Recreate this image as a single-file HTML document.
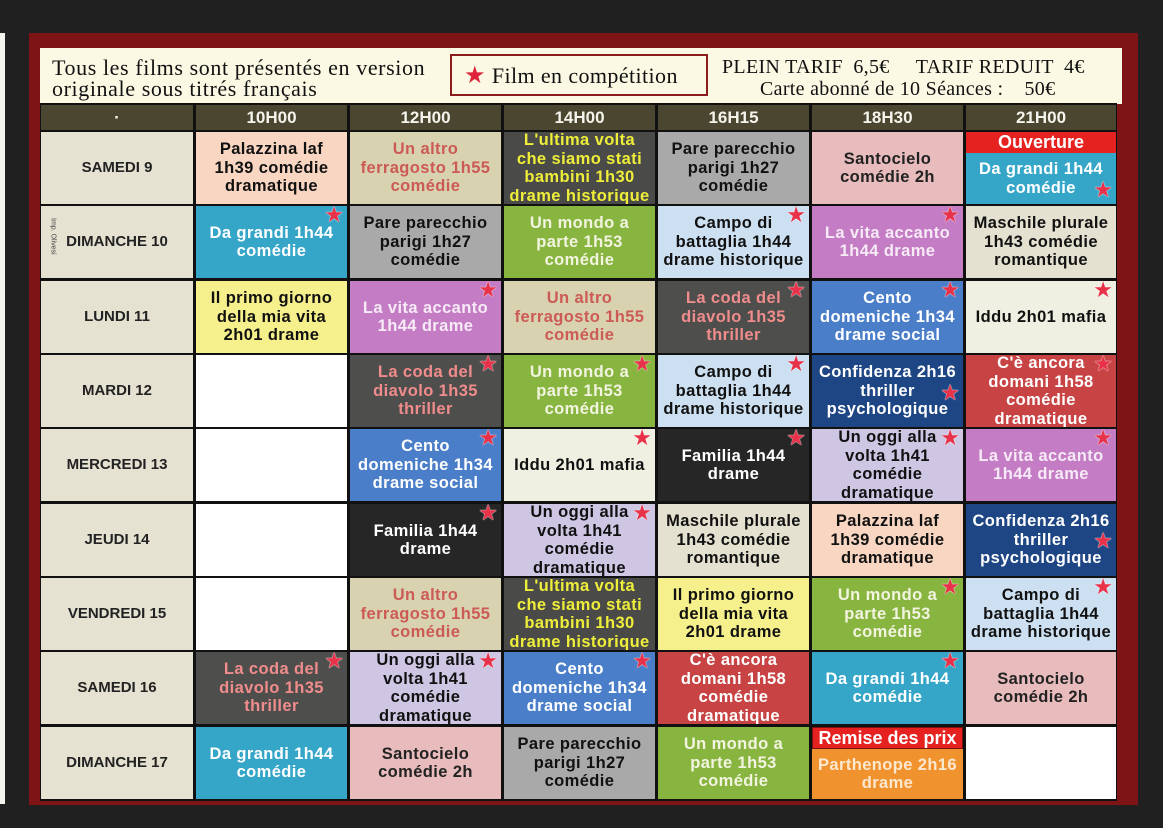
<!DOCTYPE html>
<html><head><meta charset="utf-8"><style>
*{margin:0;padding:0;box-sizing:border-box}
body{width:1163px;height:828px;background:#202020;position:relative;overflow:hidden;font-family:"Liberation Sans",sans-serif}
.abs{position:absolute}
.cell{position:absolute;width:151px;height:72px;display:flex;align-items:center;justify-content:center;text-align:center;font-weight:bold;font-size:16.5px;line-height:18.5px;letter-spacing:0.4px;overflow:hidden;white-space:nowrap}
.day{left:41px;width:152px;background:#e5e2d2;color:#222;font-size:15px;letter-spacing:0}
.hd{position:absolute;top:105px;height:25px;width:151px;background:#4b4630;color:#f4f4ec;font-weight:bold;font-size:17px;text-align:center;line-height:26px}
.c1{left:196px}.c2{left:350px}.c3{left:504px}.c4{left:658px}.c5{left:812px}.c6{left:966px;width:150px}
.r1{top:132px}.r2{top:206px}.r3{top:281px}.r4{top:355px}.r5{top:429px}.r6{top:504px}.r7{top:578px}.r8{top:652px}.r9{top:727px}
.st{position:absolute;top:-1px;right:3px;font-size:22px;line-height:22px;color:#e8324a;text-shadow:0 0 1px #fff,0 0 1px #fff;font-family:"DejaVu Sans",sans-serif;font-weight:normal;letter-spacing:0}
.pea{background:#f8d6c2;color:#111}
.kha{background:#d8d2b0;color:#cc5a55}
.ult{background:#4a4a48;color:#eeee3a}
.cod{background:#4e4e4c;color:#f08c8c}
.gra{background:#a9a9a9;color:#111}
.pin{background:#e8bcbc;color:#222}
.cya{background:#36a6c8;color:#fff}
.gre{background:#88b440;color:#f2f4e0}
.lbl{background:#cde0f2;color:#111}
.pur{background:#c47cc4;color:#f6eaf6}
.bei{background:#e4e1d0;color:#111}
.yel{background:#f6f08c;color:#111}
.blu{background:#4a7ec8;color:#fff}
.idd{background:#f0f0e2;color:#111}
.nav{background:#1e4684;color:#fff}
.red{background:#c84444;color:#fff}
.blk{background:#262626;color:#fff}
.lav{background:#cfc6e4;color:#111}
.whi{background:#fff}
.band{position:absolute;left:0;top:0;width:100%;height:21px;background:#e52220;color:#fff;font-size:18px;line-height:21px;letter-spacing:0}
</style></head><body>
<div class="abs" style="left:0;top:33px;width:5px;height:771px;background:#f4f4ee"></div>
<div class="abs" style="left:29px;top:33px;width:1109px;height:772px;background:#7e1416"></div>
<div class="abs" style="left:40px;top:48px;width:1082px;height:56px;background:#fbf9e4"></div>
<div class="abs" style="left:52px;top:57px;font-family:'Liberation Serif',serif;font-size:22px;line-height:21px;letter-spacing:0.6px;color:#111;white-space:nowrap">Tous les films sont présentés en version<br>originale sous titrés français</div>
<div class="abs" style="left:450px;top:54px;width:258px;height:42px;border:2px solid #8a1c1e;background:#fbf9e4;font-family:'Liberation Serif',serif;font-size:22px;line-height:38px;padding-left:12px;color:#111;white-space:nowrap;letter-spacing:0.4px"><span style="color:#e0243c;font-family:'DejaVu Sans',sans-serif;font-size:24px">★</span> Film en compétition</div>
<div class="abs" style="left:722px;top:56px;font-family:'Liberation Serif',serif;font-size:20px;line-height:22px;letter-spacing:0.3px;color:#111;white-space:pre">PLEIN TARIF  6,5€     TARIF REDUIT  4€</div>
<div class="abs" style="left:760px;top:78px;font-family:'Liberation Serif',serif;font-size:20px;line-height:22px;letter-spacing:0.3px;color:#111;white-space:pre">Carte abonné de 10 Séances :    50€</div>
<div class="abs" style="left:40px;top:103px;width:1077px;height:698px;background:#111"></div>
<div class="hd" style="left:41px;width:152px">·</div>
<div class="hd c1">10H00</div><div class="hd c2">12H00</div><div class="hd c3">14H00</div><div class="hd c4">16H15</div><div class="hd c5">18H30</div><div class="hd c6">21H00</div>

<div class="cell day r1">SAMEDI 9</div>
<div class="cell day r2">DIMANCHE 10<span class="abs" style="left:2px;top:12px;font-size:7px;font-weight:normal;writing-mode:vertical-rl;color:#444">Imp. Olivesi</span></div>
<div class="cell day r3">LUNDI 11</div>
<div class="cell day r4">MARDI 12</div>
<div class="cell day r5">MERCREDI 13</div>
<div class="cell day r6">JEUDI 14</div>
<div class="cell day r7">VENDREDI 15</div>
<div class="cell day r8">SAMEDI 16</div>
<div class="cell day r9">DIMANCHE 17</div>

<div class="cell r1 c1 pea">Palazzina laf<br>1h39 comédie<br>dramatique</div>
<div class="cell r1 c2 kha">Un altro<br>ferragosto 1h55<br>comédie</div>
<div class="cell r1 c3 ult">L'ultima volta<br>che siamo stati<br>bambini 1h30<br>drame historique</div>
<div class="cell r1 c4 gra">Pare parecchio<br>parigi 1h27<br>comédie</div>
<div class="cell r1 c5 pin">Santocielo<br>comédie 2h</div>
<div class="cell r1 c6 cya" style="padding-top:21px"><div class="band">Ouverture</div>Da grandi  1h44<br>comédie<span class="st" style="top:48px">★</span></div>

<div class="cell r2 c1 cya">Da grandi  1h44<br>comédie<span class="st">★</span></div>
<div class="cell r2 c2 gra">Pare parecchio<br>parigi 1h27<br>comédie</div>
<div class="cell r2 c3 gre">Un mondo a<br>parte 1h53<br>comédie</div>
<div class="cell r2 c4 lbl">Campo di<br>battaglia 1h44<br>drame historique<span class="st">★</span></div>
<div class="cell r2 c5 pur">La vita accanto<br>1h44 drame<span class="st">★</span></div>
<div class="cell r2 c6 bei">Maschile plurale<br>1h43 comédie<br>romantique</div>

<div class="cell r3 c1 yel">Il primo giorno<br>della mia vita<br>2h01 drame</div>
<div class="cell r3 c2 pur">La vita accanto<br>1h44 drame<span class="st">★</span></div>
<div class="cell r3 c3 kha">Un altro<br>ferragosto 1h55<br>comédie</div>
<div class="cell r3 c4 cod">La coda del<br>diavolo 1h35<br>thriller<span class="st">★</span></div>
<div class="cell r3 c5 blu">Cento<br>domeniche 1h34<br>drame social<span class="st">★</span></div>
<div class="cell r3 c6 idd">Iddu 2h01 mafia<span class="st">★</span></div>

<div class="cell r4 c1 whi"></div>
<div class="cell r4 c2 cod">La coda del<br>diavolo 1h35<br>thriller<span class="st">★</span></div>
<div class="cell r4 c3 gre">Un mondo a<br>parte 1h53<br>comédie<span class="st">★</span></div>
<div class="cell r4 c4 lbl">Campo di<br>battaglia 1h44<br>drame historique<span class="st">★</span></div>
<div class="cell r4 c5 nav">Confidenza 2h16<br>thriller<br>psychologique<span class="st" style="top:28px">★</span></div>
<div class="cell r4 c6 red">C'è ancora<br>domani 1h58<br>comédie<br>dramatique<span class="st">★</span></div>

<div class="cell r5 c1 whi"></div>
<div class="cell r5 c2 blu">Cento<br>domeniche 1h34<br>drame social<span class="st">★</span></div>
<div class="cell r5 c3 idd">Iddu 2h01 mafia<span class="st">★</span></div>
<div class="cell r5 c4 blk">Familia 1h44<br>drame<span class="st">★</span></div>
<div class="cell r5 c5 lav">Un oggi alla<br>volta 1h41<br>comédie<br>dramatique<span class="st">★</span></div>
<div class="cell r5 c6 pur">La vita accanto<br>1h44 drame<span class="st">★</span></div>

<div class="cell r6 c1 whi"></div>
<div class="cell r6 c2 blk">Familia 1h44<br>drame<span class="st">★</span></div>
<div class="cell r6 c3 lav">Un oggi alla<br>volta 1h41<br>comédie<br>dramatique<span class="st">★</span></div>
<div class="cell r6 c4 bei">Maschile plurale<br>1h43 comédie<br>romantique</div>
<div class="cell r6 c5 pea">Palazzina laf<br>1h39 comédie<br>dramatique</div>
<div class="cell r6 c6 nav">Confidenza 2h16<br>thriller<br>psychologique<span class="st" style="top:27px">★</span></div>

<div class="cell r7 c1 whi"></div>
<div class="cell r7 c2 kha">Un altro<br>ferragosto 1h55<br>comédie</div>
<div class="cell r7 c3 ult">L'ultima volta<br>che siamo stati<br>bambini 1h30<br>drame historique</div>
<div class="cell r7 c4 yel">Il primo giorno<br>della mia vita<br>2h01 drame</div>
<div class="cell r7 c5 gre">Un mondo a<br>parte 1h53<br>comédie<span class="st">★</span></div>
<div class="cell r7 c6 lbl">Campo di<br>battaglia 1h44<br>drame historique<span class="st">★</span></div>

<div class="cell r8 c1 cod">La coda del<br>diavolo 1h35<br>thriller<span class="st">★</span></div>
<div class="cell r8 c2 lav">Un oggi alla<br>volta 1h41<br>comédie<br>dramatique<span class="st">★</span></div>
<div class="cell r8 c3 blu">Cento<br>domeniche 1h34<br>drame social<span class="st">★</span></div>
<div class="cell r8 c4 red">C'è ancora<br>domani 1h58<br>comédie<br>dramatique</div>
<div class="cell r8 c5 cya">Da grandi  1h44<br>comédie<span class="st">★</span></div>
<div class="cell r8 c6 pin">Santocielo<br>comédie 2h</div>

<div class="cell r9 c1 cya">Da grandi  1h44<br>comédie</div>
<div class="cell r9 c2 pin">Santocielo<br>comédie 2h</div>
<div class="cell r9 c3 gra">Pare parecchio<br>parigi 1h27<br>comédie</div>
<div class="cell r9 c4 gre">Un mondo a<br>parte 1h53<br>comédie</div>
<div class="cell r9 c5" style="background:#f0922e;color:#fde8d0;padding-top:22px"><div class="band" style="height:22px;border:1px solid #7a1010;line-height:20px">Remise des prix</div>Parthenope 2h16<br>drame</div>
<div class="cell r9 c6 whi"></div>
</body></html>
